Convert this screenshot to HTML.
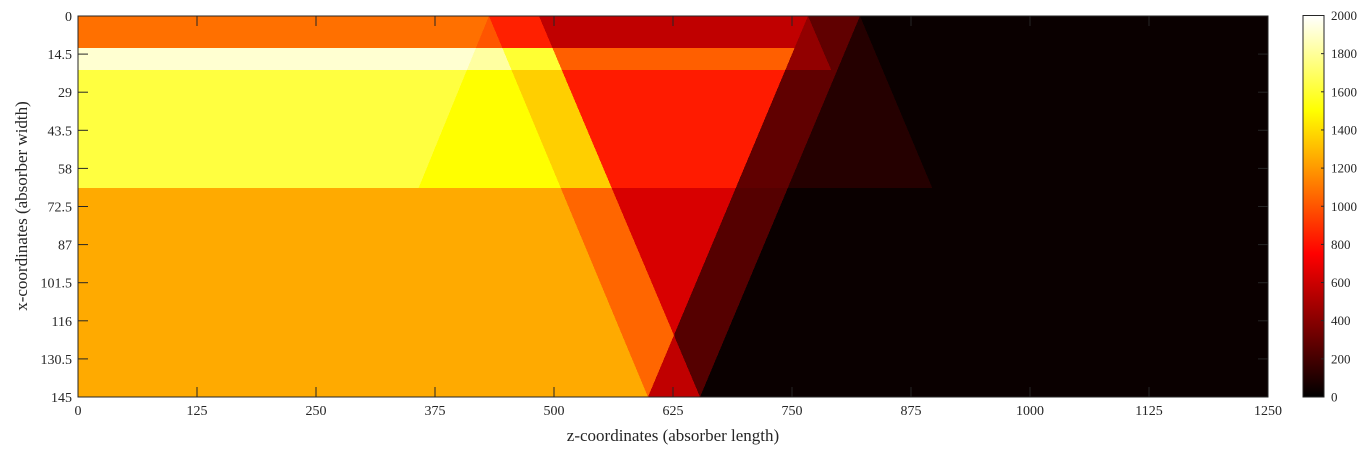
<!DOCTYPE html>
<html><head><meta charset="utf-8">
<style>
html,body{margin:0;padding:0;background:#fff;}
svg text{font-family:"Liberation Serif",serif;fill:#262626;}
</style></head>
<body>
<svg id="chart" width="1366" height="448" viewBox="0 0 1366 448" xmlns="http://www.w3.org/2000/svg">
<defs>
<clipPath id="plotclip"><rect x="78" y="16" width="1190" height="381"/></clipPath>
<linearGradient id="hotgrad" x1="0" y1="1" x2="0" y2="0">
<stop offset="0" stop-color="#000"/><stop offset="0.375" stop-color="#f00"/><stop offset="0.75" stop-color="#ff0"/><stop offset="1" stop-color="#fff"/>
</linearGradient>
</defs>
<g id="cells" clip-path="url(#plotclip)" shape-rendering="crispEdges"></g>
<g id="axes"></g>
</svg>
<script>
// ---- data (data coordinates: z along absorber length, x across width) ----
const zTicks = [0,125,250,375,500,625,750,875,1000,1125,1250];
const xTicks = [0,14.5,29,43.5,58,72.5,87,101.5,116,130.5,145];
const cbTicks = [0,200,400,600,800,1000,1200,1400,1600,1800,2000];
// boundary lines: z at x=0 and z at x=145
const lineNames = ["L0","R1","R2","L1","L2","CR","DR"];
const lineZTop = [431.7,431.7,484.2,766.8,821.4,766.8,821.4];
const lineZBottom = [267.9,598.7,653.4,598.7,653.4,939.0,989.5];
// row bands in x
const rowStart = [0,12.2,20.6,65.4];
const rowEnd = [12.2,20.6,65.4,145];
// layered regions: row index, left boundary lines (max), right boundary lines (min), value
const layerRow   = [0,0,0,0,0,0,0,0, 1,1,1,1,1,1,1,1, 2,2,2,2,2,2,2, 3,3,3,3,3,3];
const layerLeft  = [[],["L0"],["R1"],["R2"],["L1"],["CR"],["L2"],["DR"],
                    [],["L0"],["R1"],["R2"],["L1"],["CR"],["L2"],["DR"],
                    [],["L0"],["R1"],["R2"],["L1"],["L2"],["DR"],
                    [],["R1"],["R2"],["L1"],["L1","R2"],["L2"]];
const layerRight = [[],["R1"],[],[],["CR"],[],["DR"],[],
                    [],["R1"],["R2"],[],["CR"],[],["DR"],[],
                    [],["R1"],["R2"],[],[],["DR"],[],
                    [],[],[],[],[],[]];
const layerValue = [1080,1000,844,565,430,282,110,30,
                    1910,1815,1600,1030,430,282,110,30,
                    1625,1500,1360,830,282,110,30,
                    1250,1050,635,565,250,30];
const backgroundValue = 30;
const zMax = 1250, xMax = 145, vMax = 2000;

// ---- scales ----
const PX0=78, PX1=1268, PY0=16, PY1=397;
const sx = z => PX0 + z/zMax*(PX1-PX0);
const sy = x => PY0 + x/xMax*(PY1-PY0);
function hot(v){
  const t=Math.max(0,Math.min(1,v/vMax));
  const c=u=>Math.round(255*Math.max(0,Math.min(1,u)));
  return `rgb(${c(t/0.375)},${c((t-0.375)/0.375)},${c((t-0.75)/0.25)})`;
}
function lineZ(name,x){
  const i=lineNames.indexOf(name);
  return lineZTop[i]+(lineZBottom[i]-lineZTop[i])*x/xMax;
}
const NS="http://www.w3.org/2000/svg";
const cells=document.getElementById('cells');
const bg=document.createElementNS(NS,'rect');
bg.setAttribute('x',PX0);bg.setAttribute('y',PY0);bg.setAttribute('width',PX1-PX0);bg.setAttribute('height',PY1-PY0);
bg.setAttribute('fill',hot(backgroundValue));


cells.appendChild(bg);
layerValue.forEach((v,k)=>{
  const r=layerRow[k], x0=rowStart[r], x1=rowEnd[r];
  const N=60, left=[], right=[];
  for(let i=0;i<=N;i++){
    const x=x0+(x1-x0)*i/N;
    let zl=0; layerLeft[k].forEach(n=>{zl=Math.max(zl,lineZ(n,x));});
    let zr=zMax; layerRight[k].forEach(n=>{zr=Math.min(zr,lineZ(n,x));});
    if(zr<zl) zr=zl;
    const Y=sy(x);
    left.push([sx(zl),Y]); right.push([sx(zr),Y]);
  }
  const pts=left.concat(right.reverse()).map(p=>p[0].toFixed(2)+','+p[1].toFixed(2)).join(' ');
  const p=document.createElementNS(NS,'polygon');
  p.setAttribute('points',pts);
  p.setAttribute('fill',hot(v));
  
  
  cells.appendChild(p);
});

// ---- axes ----
const axes=document.getElementById('axes');
function el(tag,attrs,txt){const e=document.createElementNS(NS,tag);for(const k in attrs)e.setAttribute(k,attrs[k]);if(txt!==undefined)e.textContent=txt;axes.appendChild(e);return e;}
const box=el('rect',{x:PX0,y:PY0,width:PX1-PX0,height:PY1-PY0,fill:'none',stroke:'#262626','stroke-width':1});


zTicks.forEach(z=>{
  const X=sx(z);
  el('line',{x1:X,y1:PY1,x2:X,y2:PY1-10,stroke:'#262626'});
  el('line',{x1:X,y1:PY0,x2:X,y2:PY0+10,stroke:'#262626'});
  const t=el('text',{x:X,y:PY1+18,'font-size':14,'text-anchor':'middle'},String(z));
  
  
});
xTicks.forEach(x=>{
  const Y=sy(x);
  el('line',{x1:PX0,y1:Y,x2:PX0+10,y2:Y,stroke:'#262626'});
  el('line',{x1:PX1,y1:Y,x2:PX1-10,y2:Y,stroke:'#262626'});
  const t=el('text',{x:PX0-6,y:Y+5,'font-size':14,'text-anchor':'end'},String(x));
  
  
});
const xt=el('text',{x:673,y:441,'font-size':17,'text-anchor':'middle'},'z-coordinates (absorber length)');


const yt=el('text',{x:0,y:0,'font-size':17,'text-anchor':'middle',transform:'translate(27,206) rotate(-90)'},'x-coordinates (absorber width)');


// colorbar
const CB0=1303, CB1=1324, CBT=15.5, CBB=397;
const cb=el('rect',{x:CB0,y:CBT,width:CB1-CB0,height:CBB-CBT,fill:'url(#hotgrad)',stroke:'#262626','stroke-width':1});


cbTicks.forEach(v=>{
  const Y=CBB-(CBB-CBT)*v/vMax;
  el('line',{x1:CB1,y1:Y,x2:CB1-3,y2:Y,stroke:'#262626'});
  const t=el('text',{x:1331,y:Y+4.5,'font-size':13},String(v));
  
  
});
</script>
</body></html>
